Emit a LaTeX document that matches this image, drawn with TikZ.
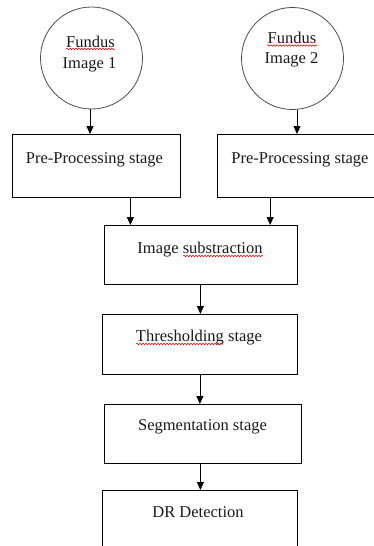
\documentclass[tikz,border=0pt]{standalone}
\usepackage{fontspec}
\setmainfont{Liberation Serif}
\usetikzlibrary{arrows.meta,decorations.pathmorphing}
\begin{document}
\begin{tikzpicture}[x=1pt,y=-1pt,
  circ/.style={draw=black!70,line width=0.8pt,circle,minimum size=102pt,inner sep=0pt},
  boxn/.style={draw=black,line width=0.8pt,rectangle,inner sep=0pt,anchor=north west},
  txt/.style={font=\fontsize{16.5}{20}\selectfont,anchor=base,inner sep=0pt,text=black!90},
  arr/.style={draw=black,line width=0.8pt,-{Triangle[length=8pt,width=7pt]}},
  wavy/.style={draw=red!85!black,line width=0.5pt,decorate,decoration={snake,amplitude=0.8pt,segment length=3pt}}]
\useasboundingbox (0,0) rectangle (374,546);
\clip (0,0) rectangle (374,546);
% circles
\node[circ] (c1) at (91.5,58) {};
\node[circ] (c2) at (292.5,58.5) {};
\node[txt] (c1a) at (90.5,47) {Fundus};
\node[txt] (c1b) at (89.5,68) {Image 1};
\node[txt] (c2a) at (292,43.5) {Fundus};
\node[txt] (c2b) at (291.5,63.5) {Image 2};
% boxes
\node[boxn,minimum width=168pt,minimum height=63pt] (pp1) at (12,134) {};
\node[boxn,minimum width=156.5pt,minimum height=63pt] (pp2) at (217,134) {};
\node[boxn,minimum width=193pt,minimum height=59pt] (sub) at (104,225) {};
\node[boxn,minimum width=195pt,minimum height=60pt] (thr) at (102,314) {};
\node[boxn,minimum width=197pt,minimum height=59pt] (seg) at (104,404) {};
\node[boxn,minimum width=195pt,minimum height=70pt] (dr) at (102,490) {};
% texts
\node[txt] (t1) at (94.5,163) {Pre-Processing stage};
\node[txt] (t2) at (300,163) {Pre-Processing stage};
\node[txt] (t3) at (200,253) {Image substraction};
\node[txt] (t4) at (199,341) {Thresholding stage};
\node[txt] (t5) at (202.5,430) {Segmentation stage};
\node[txt] (t6) at (198,517) {DR Detection};
% spell-check marks
\draw[wavy] (66,49) -- (115,49);
\draw[wavy] (267,45.5) -- (317,45.5);
\draw[wavy] (183,256) -- (263,256);
\draw[wavy] (136,344) -- (223,344);
% arrows
\draw[arr] ([xshift=-1.5pt]c1.south) -- ([xshift=-1.5pt]c1.south |- pp1.north);
\draw[arr] ([xshift=4.5pt]c2.south) -- ([xshift=4.5pt]c2.south |- pp2.north);
\draw[arr] ([xshift=34pt]pp1.south) -- ([xshift=34pt]pp1.south |- sub.north);
\draw[arr] ([xshift=-25.5pt]pp2.south) -- ([xshift=-25.5pt]pp2.south |- sub.north);
\draw[arr] ([xshift=-0.5pt]sub.south) -- ([xshift=-0.5pt]sub.south |- thr.north);
\draw[arr] (thr.south) -- (thr.south |- seg.north);
\draw[arr] ([xshift=-2.5pt]seg.south) -- ([xshift=-2.5pt]seg.south |- dr.north);
\end{tikzpicture}
\end{document}
